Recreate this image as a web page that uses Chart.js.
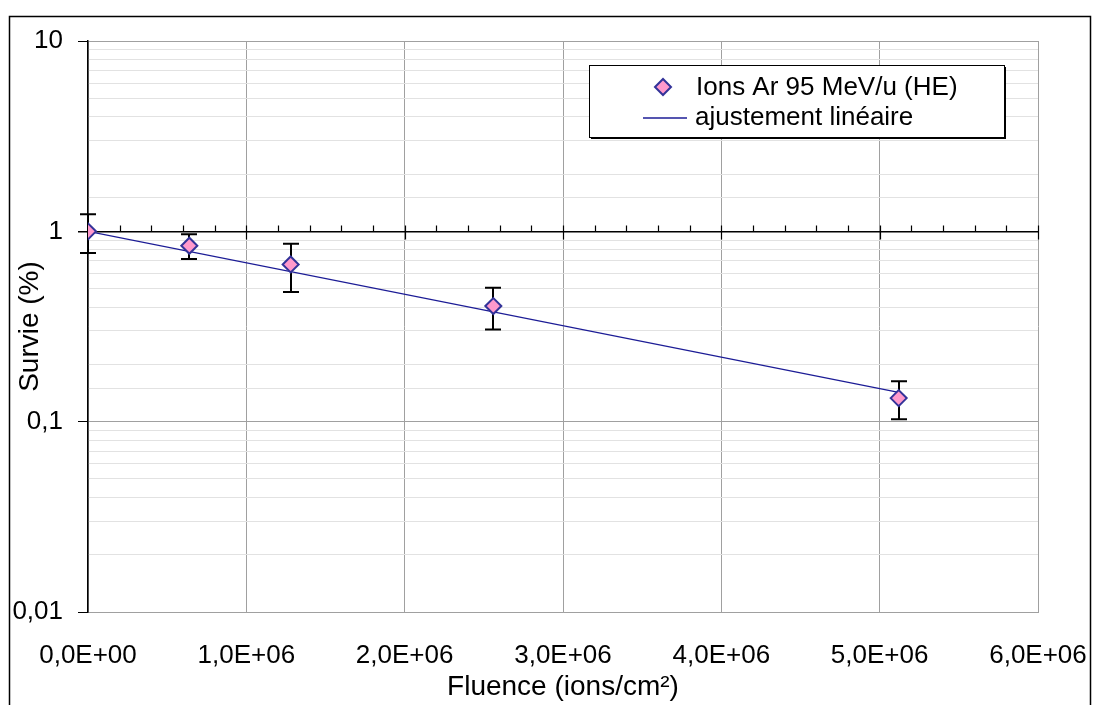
<!DOCTYPE html>
<html>
<head>
<meta charset="utf-8">
<script src="https://cdn.jsdelivr.net/npm/chart.js@4.4.1/dist/chart.umd.min.js"></script>
<style>
  body { margin: 0; background: #fff; }
  canvas { display: block; }
</style>
</head>
<body>
<canvas id="survieChart" width="1094" height="705"></canvas>
<script>
// data
const fluence = [0, 6.4e5, 1.28e6, 2.56e6, 5.12e6];
const survie = [1.0, 0.84, 0.67, 0.405, 0.133];
const erreur = [0.23, 0.125, 0.19, 0.10, 0.03];
const fitFluence = [0, 5.12e6];
const fitSurvie = [1.0, 0.1426];
const xTicks = [0, 1e6, 2e6, 3e6, 4e6, 5e6, 6e6];
const xTickLabels = ['0,0E+00', '1,0E+06', '2,0E+06', '3,0E+06', '4,0E+06', '5,0E+06', '6,0E+06'];
const yTicks = [0.01, 0.1, 1, 10];
const yTickLabels = ['0,01', '0,1', '1', '10'];
const seriesLabels = ['Ions Ar 95 MeV/u (HE)', 'ajustement linéaire'];

const FONT = '"Liberation Sans", Arial, sans-serif';
const LINE_COLOR = '#1c1c96';
const MARKER_FILL = '#ff99cc';
const MARKER_BORDER = '#333399';

function majorIndex(v) {
  return yTicks.findIndex(t => Math.abs(Math.log10(v) - Math.log10(t)) < 1e-6);
}

// outer frame
const frame = {
  id: 'frame',
  beforeDraw(chart) {
    const ctx = chart.ctx;
    ctx.save();
    ctx.fillStyle = '#fff';
    ctx.fillRect(0, 0, chart.width, chart.height);
    ctx.strokeStyle = '#000';
    ctx.lineWidth = 1.5;
    ctx.strokeRect(9.5, 16.5, 1081, 760);
    ctx.restore();
  }
};

// x axis crossing at y = 1 : tick marks
const crossTicks = {
  id: 'crossTicks',
  beforeDatasetsDraw(chart) {
    const ctx = chart.ctx;
    const xs = chart.scales.x, ys = chart.scales.y;
    const y0 = Math.round(ys.getPixelForValue(1)) + 0.5;
    ctx.save();
    ctx.strokeStyle = '#000';
    ctx.lineWidth = 1.2;
    ctx.beginPath();
    for (let i = 0; i < xTicks.length; i++) {
      const px = Math.round(xs.getPixelForValue(xTicks[i])) + 0.5;
      ctx.moveTo(px, y0 - 6);
      ctx.lineTo(px, y0 + 8);
      if (i < xTicks.length - 1) {
        const step = (xTicks[i + 1] - xTicks[i]) / 5;
        for (let k = 1; k < 5; k++) {
          const mx = Math.round(xs.getPixelForValue(xTicks[i] + k * step)) + 0.5;
          ctx.moveTo(mx, y0 - 6);
          ctx.lineTo(mx, y0);
        }
      }
    }
    ctx.stroke();
    ctx.restore();
  }
};

// error bars
const errorBars = {
  id: 'errorBars',
  beforeDatasetsDraw(chart) {
    const ctx = chart.ctx;
    const xs = chart.scales.x, ys = chart.scales.y;
    ctx.save();
    ctx.strokeStyle = '#000';
    ctx.lineWidth = 2;
    ctx.beginPath();
    for (let i = 0; i < fluence.length; i++) {
      const px = Math.round(xs.getPixelForValue(fluence[i]));
      const top = ys.getPixelForValue(survie[i] + erreur[i]);
      const bot = ys.getPixelForValue(survie[i] - erreur[i]);
      ctx.moveTo(px, top); ctx.lineTo(px, bot);
      ctx.moveTo(px - 8, top); ctx.lineTo(px + 8, top);
      ctx.moveTo(px - 8, bot); ctx.lineTo(px + 8, bot);
    }
    ctx.stroke();
    ctx.restore();
  }
};

// legend box inside the plot
const legendBox = {
  id: 'legendBox',
  afterDraw(chart) {
    const ctx = chart.ctx;
    const x = 589, y = 65, w = 415, h = 72;
    ctx.save();
    ctx.fillStyle = '#000';
    ctx.fillRect(x + 2, y + 2, w, h);
    ctx.fillStyle = '#fff';
    ctx.fillRect(x, y, w, h);
    ctx.strokeStyle = '#000';
    ctx.lineWidth = 1;
    ctx.strokeRect(x + 0.5, y + 0.5, w, h);

    ctx.fillStyle = MARKER_FILL;
    ctx.strokeStyle = MARKER_BORDER;
    ctx.lineWidth = 2;
    Chart.helpers.drawPoint(ctx, {
      pointStyle: 'rectRot', radius: 8, borderWidth: 2, rotation: 0
    }, 663, 87);

    ctx.strokeStyle = LINE_COLOR;
    ctx.lineWidth = 1.3;
    ctx.beginPath();
    ctx.moveTo(643, 118); ctx.lineTo(687, 118);
    ctx.stroke();

    ctx.fillStyle = '#000';
    ctx.font = '26px ' + FONT;
    ctx.textAlign = 'left';
    ctx.textBaseline = 'middle';
    ctx.fillText(chart.data.datasets[0].label, 696, 88);
    ctx.fillText(chart.data.datasets[1].label, 695, 118);
    ctx.restore();
  }
};

const ctx = document.getElementById('survieChart');

let chart = new Chart(ctx, {
  type: 'scatter',
  data: {
    datasets: [{
      label: seriesLabels[0],
      data: fluence.map((f, i) => ({ x: f, y: survie[i] })),
      pointStyle: 'rectRot',
      pointRadius: 8,
      pointBackgroundColor: MARKER_FILL,
      pointBorderColor: MARKER_BORDER,
      pointBorderWidth: 2,
      showLine: false
    }, {
      label: seriesLabels[1],
      data: fitFluence.map((f, i) => ({ x: f, y: fitSurvie[i] })),
      showLine: true,
      borderColor: LINE_COLOR,
      borderWidth: 1.3,
      pointRadius: 0
    }]
  },
  options: {
    responsive: false,
    animation: false,
    layout: { padding: { left: 0, top: 41, right: 56, bottom: 0 } },
    plugins: {
      legend: { display: false },
      tooltip: { enabled: false }
    },
    scales: {
      x: {
        type: 'linear',
        min: 0,
        max: 6e6,
        afterFit: s => { s.height = 93; s.paddingLeft = 0; s.paddingRight = 0; },
        afterBuildTicks: s => { s.ticks = xTicks.map(v => ({ value: v })); },
        ticks: {
          autoSkip: false,
          maxRotation: 0,
          padding: 28,
          color: '#000',
          font: { family: FONT, size: 26 },
          callback: v => xTickLabels[xTicks.indexOf(v)]
        },
        grid: { color: '#a0a0a0', lineWidth: 1, drawTicks: false },
        border: { color: '#a0a0a0', width: 1 },
        title: {
          display: true,
          text: 'Fluence (ions/cm²)',
          color: '#000',
          font: { family: FONT, size: 28 },
          padding: { top: 0, bottom: 1 }
        }
      },
      y: {
        type: 'logarithmic',
        min: 0.01,
        max: 10,
        afterFit: s => { s.width = 88; s.paddingTop = 0; s.paddingBottom = 0; },
        ticks: {
          autoSkip: false,
          padding: 15,
          color: '#000',
          font: { family: FONT, size: 26 },
          callback: v => {
            const i = majorIndex(v);
            return i >= 0 ? yTickLabels[i] : '';
          }
        },
        grid: {
          drawTicks: true,
          tickLength: 10,
          color: c => {
            const v = c.tick ? c.tick.value : 0;
            const i = majorIndex(v);
            if (i < 0) return '#e2e2e2';
            if (yTicks[i] === 1) return '#000';
            return '#a0a0a0';
          },
          lineWidth: c => {
            const v = c.tick ? c.tick.value : 0;
            const i = majorIndex(v);
            return (i >= 0 && yTicks[i] === 1) ? 1.5 : 1;
          },
          tickColor: c => {
            const v = c.tick ? c.tick.value : 0;
            return majorIndex(v) >= 0 ? '#000' : 'rgba(0,0,0,0)';
          }
        },
        border: { color: '#000', width: 1.5 },
        title: {
          display: true,
          text: 'Survie (%)',
          color: '#000',
          font: { family: FONT, size: 28 },
          padding: { top: 13, bottom: 0 }
        }
      }
    }
  },
  plugins: [frame, crossTicks, errorBars, legendBox]
});
</script>
</body>
</html>
